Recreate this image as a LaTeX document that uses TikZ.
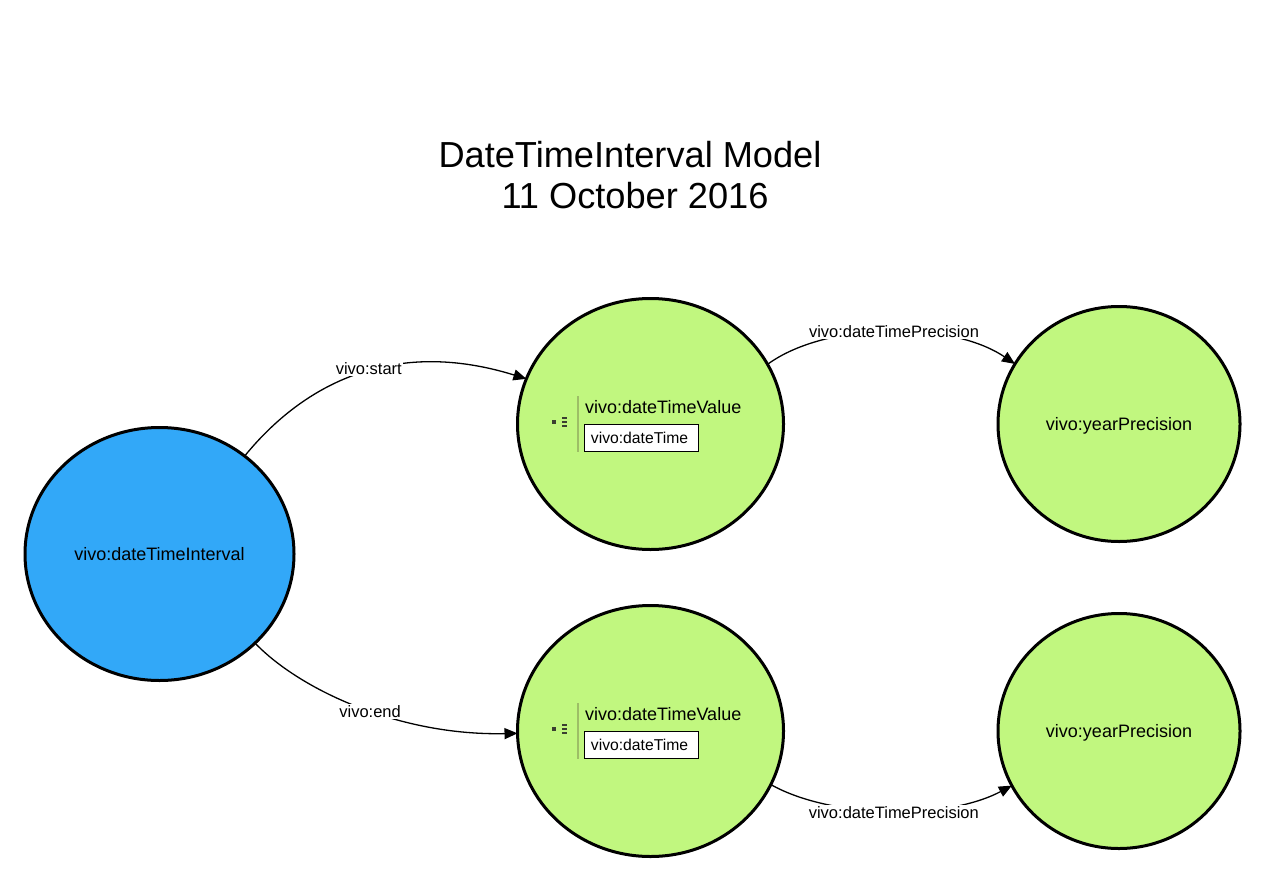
\documentclass[tikz,border=0pt]{standalone}
\usepackage{fontspec}
\setmainfont{Liberation Sans}
\usetikzlibrary{shapes.geometric,arrows.meta}
\definecolor{bluefill}{HTML}{32A8F8}
\definecolor{greenfill}{HTML}{C1F77F}
\definecolor{barcol}{HTML}{9DBE66}
\definecolor{iconcol}{HTML}{3A3F30}
\tikzset{
  classnode/.style={ellipse,draw=black,line width=3pt,inner sep=0pt,outer sep=0pt,font=\fontsize{18}{20}\selectfont},
  bigclass/.style={classnode,minimum width=266pt,minimum height=251pt,fill=greenfill},
  smallclass/.style={classnode,minimum width=242pt,minimum height=235pt,fill=greenfill,text depth=0pt},
  rootclass/.style={classnode,minimum width=269pt,minimum height=253pt,fill=bluefill},
  edgeline/.style={draw=black,line width=1.3pt,-{Triangle[length=13pt,width=11pt]}},
  edgelabel/.style={fill=white,inner sep=1.5pt,font=\fontsize{16.5}{18}\selectfont},
  titletext/.style={font=\fontsize{36.2}{40}\selectfont,inner sep=0pt},
  valuetext/.style={font=\fontsize{18}{20}\selectfont,inner sep=0pt,anchor=west},
  valuebox/.style={draw=black,line width=1pt,fill=white,minimum width=114pt,minimum height=27pt,inner sep=0pt,font=\fontsize{15.7}{18}\selectfont},
  iconbit/.style={fill=iconcol,draw=none}
}
\begin{document}
\begin{tikzpicture}[x=1pt,y=-1pt]
\useasboundingbox (0,0) rectangle (1266,883);
\node[titletext] (t1) at (630,155) {DateTimeInterval Model};
\node[titletext] (t2) at (635,196) {11 October 2016};
\node[rootclass] (root) at (159.5,554) {vivo:dateTimeInterval};
\node[bigclass] (v1) at (650.5,424) {};
\node[bigclass] (v2) at (650.5,731) {};
\node[smallclass] (p1) at (1119,424) {vivo:yearPrecision};
\node[smallclass] (p2) at (1119,731) {vivo:yearPrecision};
\foreach \n/\yy in {v1/424,v2/731}{
  \draw[barcol,line width=1.8pt] (577.8,\yy-28) -- (577.8,\yy+28);
  \node[valuetext] (\n t) at (585,\yy-17) {vivo:dateTimeValue};
  \node[valuebox] (\n b) at (641,\yy+14) {\hspace*{-3pt}vivo:dateTime};
  \fill[iconbit] (552,\yy-4) rectangle (556,\yy);
  \fill[iconbit] (562,\yy-7) rectangle (567,\yy-5);
  \fill[iconbit] (562,\yy-3) rectangle (567,\yy-1);
  \fill[iconbit] (562,\yy+1) rectangle (567,\yy+3);
}
\draw[edgeline] (root.49.4) .. controls (305,382) and (395,338) .. node[edgelabel,pos=0.535,yshift=3pt] {vivo:start} (v1.160.5);
\draw[edgeline] (root.-43) .. controls (300,690) and (400,736) .. node[edgelabel,pos=0.54,yshift=-1pt] {vivo:end} (v2.181.3);
\draw[edgeline] (v1.27.4) .. controls (825,322) and (950,320) .. node[edgelabel,pos=0.52] {vivo:dateTimePrecision} (p1.150.7);
\draw[edgeline] (v2.-24) .. controls (830,818) and (945,821) .. node[edgelabel,pos=0.52,yshift=-2pt] {vivo:dateTimePrecision} (p2.-153);
\end{tikzpicture}
\end{document}
